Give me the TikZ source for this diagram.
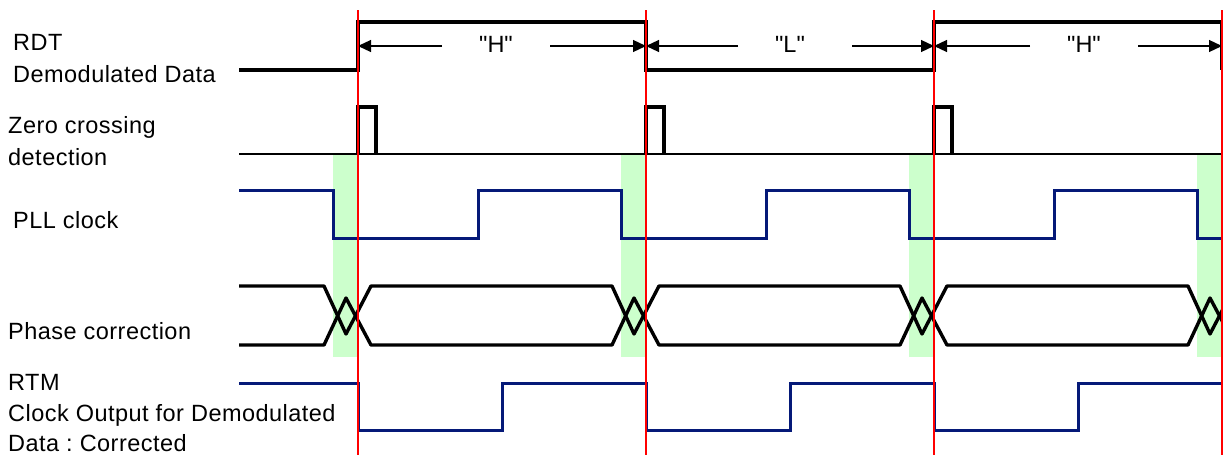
\documentclass[tikz,border=0pt]{standalone}
\usepackage{fontspec}
\setmainfont{Liberation Sans}
\newfontfamily\lblfont{Liberation Sans}[LetterSpace=2]
\usetikzlibrary{arrows.meta}
\definecolor{pllblue}{RGB}{5,25,120}
\definecolor{bandgreen}{RGB}{204,255,204}
\definecolor{markred}{RGB}{255,0,0}
\frenchspacing
\begin{document}
\begin{tikzpicture}[x=1pt,y=-1pt,
  lbl/.style={anchor=base west, inner sep=0pt, font=\lblfont\fontsize{23.5}{28}\selectfont},
  vallbl/.style={anchor=base, inner sep=0pt, font=\lblfont\fontsize{23.5}{28}\selectfont},
  sig/.style={line width=3.4pt, black, line join=miter},
  clk/.style={line width=3pt, pllblue, line join=miter},
  baseln/.style={line width=1.4pt, black},
  phase/.style={line width=3.4pt, black, line join=round},
  dim/.style={line width=1.2pt, -{Triangle[length=13pt,width=12pt]}},
  marker/.style={markred, line width=1.5pt},
  band/.style={fill=bandgreen, draw=none}]
\useasboundingbox (0,0) rectangle (1223,455);

% green bands
\foreach \t in {358,646,934,1222}{
  \fill[band] (\t-25,155) rectangle (\t,357);
}

% labels
\node[lbl] (l1a) at (13,50) {RDT};
\node[lbl] (l1b) at (13,82) {Demodulated Data};
\node[lbl] (l2a) at (8,133) {Zero crossing};
\node[lbl] (l2b) at (8,165) {detection};
\node[lbl] (l3) at (13,228) {PLL clock};
\node[lbl] (l4) at (8,339) {Phase correction};
\node[lbl] (l5a) at (8,390) {RTM};
\node[lbl] (l5b) at (8,421) {Clock Output for Demodulated};
\node[lbl] (l5c) at (8,451) {Data : Corrected};

% RDT
\draw[sig] (239,70) -- (358,70) -- (358,22) -- (646,22) -- (646,70) -- (934,70) -- (934,22) -- (1222,22) -- (1222,70);

% dimension arrows
\coordinate (e1) at (358,46);
\coordinate (e2) at (646,46);
\coordinate (e3) at (934,46);
\coordinate (e4) at (1222,46);
\coordinate (h1l) at (442,46);
\coordinate (h1r) at (550,46);
\coordinate (l2l) at (738,46);
\coordinate (l2r) at (852,46);
\coordinate (h3l) at (1030,46);
\coordinate (h3r) at (1138,46);
\node[vallbl] (vH1) at (496,52) {\textquotedbl H\textquotedbl};
\node[vallbl] (vL) at (790,52) {\textquotedbl L\textquotedbl};
\node[vallbl] (vH2) at (1084,52) {\textquotedbl H\textquotedbl};
\draw[dim] (h1l) -- (e1);
\draw[dim] (h1r) -- (e2);
\draw[dim] (l2l) -- (e2);
\draw[dim] (l2r) -- (e3);
\draw[dim] (h3l) -- (e3);
\draw[dim] (h3r) -- (e4);

% zero crossing
\draw[baseln] (239,154) -- (1222,154);
\foreach \t in {358,646,934}{
  \draw[sig] (\t,154) -- (\t,107) -- (\t+18,107) -- (\t+18,154);
}

% PLL clock
\draw[clk] (239,190) -- (333,190) -- (333,238) -- (478,238) -- (478,190) -- (621,190) -- (621,238) -- (766,238) -- (766,190) -- (909,190) -- (909,238) -- (1054,238) -- (1054,190) -- (1197,190) -- (1197,238) -- (1222,238);

% phase correction
\begin{scope}
\clip (0,0) rectangle (1222.5,455);
\draw[phase] (239,286) -- (324,286) -- (346,334) -- (371,286) -- (612,286) -- (634,334) -- (659,286) -- (900,286) -- (922,334) -- (947,286) -- (1188,286) -- (1210,334) -- (1235,286);
\draw[phase] (239,345) -- (324,345) -- (346,298) -- (371,345) -- (612,345) -- (634,298) -- (659,345) -- (900,345) -- (922,298) -- (947,345) -- (1188,345) -- (1210,298) -- (1235,345);
\end{scope}

% RTM
\draw[clk] (239,383) -- (358,383) -- (358,430) -- (502,430) -- (502,383) -- (646,383) -- (646,430) -- (790,430) -- (790,383) -- (934,383) -- (934,430) -- (1078,430) -- (1078,383) -- (1222,383) -- (1222,430);

% red markers
\foreach \t in {358,646,934,1222}{
  \draw[marker] (\t,10) -- (\t,455);
}
\end{tikzpicture}
\end{document}
